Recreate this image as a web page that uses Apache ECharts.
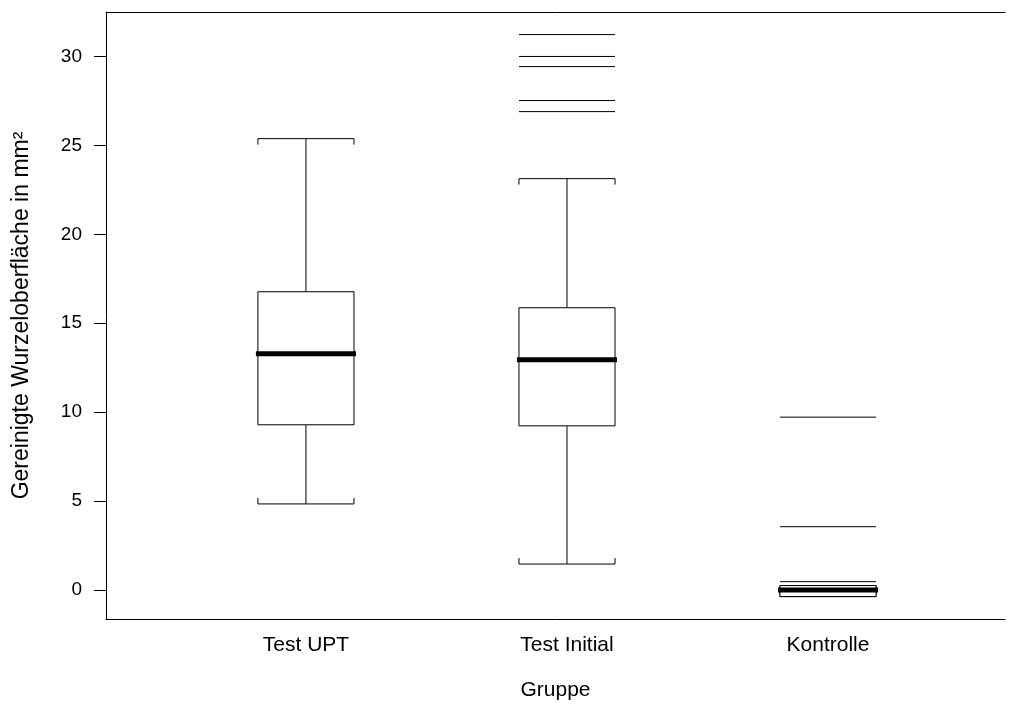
<!DOCTYPE html>
<html><head><meta charset="utf-8">
<script src="https://cdn.jsdelivr.net/npm/echarts@6/dist/echarts.min.js"></script>
<style>html,body{margin:0;padding:0;background:#fff}#c{width:1017px;height:711px}</style>
</head><body><div id="c"></div>
<script>
const categories = ['Test UPT', 'Test Initial', 'Kontrolle'];
const positions = [1, 2, 3];
const whiskerLow = [4.84, 1.46, -0.37];
const q1 = [9.29, 9.23, -0.37];
const median = [13.28, 12.94, 0.0];
const q3 = [16.77, 15.87, 0.25];
const whiskerHigh = [25.38, 23.13, 0.25];
const outlierGroup = [2, 2, 2, 2, 2, 3, 3, 3];
const outlierValue = [31.23, 30.0, 29.43, 27.52, 26.9, 9.72, 3.56, 0.47];
const yTicks = [0, 5, 10, 15, 20, 25, 30];

const boxData = positions.map((p, i) => [p, whiskerLow[i], q1[i], median[i], q3[i], whiskerHigh[i]]);
const outData = outlierGroup.map((g, i) => [g, outlierValue[i]]);
const HW = 0.184;
const lineStyle = {stroke: '#000', lineWidth: 1, fill: null};

const chart = echarts.init(document.getElementById('c'), null, {renderer: 'canvas'});
chart.setOption({
  animation: false,
  grid: {left: 106, right: 12, top: 12, bottom: 92},
  textStyle: {fontFamily: 'Liberation Sans, Arial, sans-serif'},
  xAxis: [{
    type: 'value', min: 0.234, max: 3.678,
    splitLine: {show: false},
    axisLine: {show: true, onZero: false, lineStyle: {color: '#000', width: 1}},
    axisTick: {show: false},
    axisLabel: {customValues: positions, formatter: v => categories[positions.indexOf(Math.round(v))] || '',
      color: '#000', fontSize: 21, margin: 16, fontFamily: 'Liberation Sans'},
    name: 'Gruppe', nameLocation: 'middle', nameGap: 61,
    nameTextStyle: {color: '#000', fontSize: 21, fontFamily: 'Liberation Sans'}
  }, {
    type: 'value', position: 'top', min: 0.234, max: 3.678,
    splitLine: {show: false}, axisTick: {show: false}, axisLabel: {show: false},
    axisLine: {show: true, onZero: false, lineStyle: {color: '#000', width: 1}}
  }],
  yAxis: {
    type: 'value', min: -1.63, max: 32.5,
    splitLine: {show: false},
    axisLine: {show: true, onZero: false, lineStyle: {color: '#000', width: 1}},
    axisTick: {show: true, customValues: yTicks, length: 12, lineStyle: {color: '#000'}},
    axisLabel: {customValues: yTicks, color: '#000', fontSize: 19, margin: 24, fontFamily: 'Liberation Sans'},
    name: 'Gereinigte Wurzeloberfläche in mm²', nameLocation: 'middle', nameGap: 73,
    nameTextStyle: {color: '#000', fontSize: 23, fontFamily: 'Liberation Sans'}
  },
  series: [{
    type: 'custom',
    data: boxData,
    renderItem: (params, api) => {
      const x = api.value(0);
      const pL = api.coord([x - HW, api.value(2)]);
      const pR = api.coord([x + HW, api.value(4)]);
      const xl = pL[0], xr = pR[0];
      const xc = api.coord([x, 0])[0];
      const yLow = api.coord([x, api.value(1)])[1];
      const yQ1 = api.coord([x, api.value(2)])[1];
      const yMed = api.coord([x, api.value(3)])[1];
      const yQ3 = api.coord([x, api.value(4)])[1];
      const yHigh = api.coord([x, api.value(5)])[1];
      const cap = 6;
      return {type: 'group', children: [
        {type: 'line', shape: {x1: xc, y1: yHigh, x2: xc, y2: yQ3}, style: lineStyle},
        {type: 'line', shape: {x1: xc, y1: yQ1, x2: xc, y2: yLow}, style: lineStyle},
        {type: 'polyline', shape: {points: [[xl, yHigh + cap], [xl, yHigh], [xr, yHigh], [xr, yHigh + cap]]}, style: lineStyle},
        {type: 'polyline', shape: {points: [[xl, yLow - cap], [xl, yLow], [xr, yLow], [xr, yLow - cap]]}, style: lineStyle},
        {type: 'rect', shape: {x: xl, y: yQ3, width: xr - xl, height: yQ1 - yQ3}, style: {stroke: '#000', lineWidth: 1, fill: '#fff'}},
        {type: 'line', shape: {x1: xl - 2, y1: yMed, x2: xr + 2, y2: yMed}, style: {stroke: '#000', lineWidth: 5}}
      ]};
    },
    z: 2
  }, {
    type: 'custom',
    data: outData,
    renderItem: (params, api) => {
      const x = api.value(0);
      const a = api.coord([x - HW, api.value(1)]);
      const b = api.coord([x + HW, api.value(1)]);
      return {type: 'line', shape: {x1: a[0], y1: a[1], x2: b[0], y2: b[1]}, style: lineStyle};
    },
    z: 3
  }]
});
</script></body></html>
